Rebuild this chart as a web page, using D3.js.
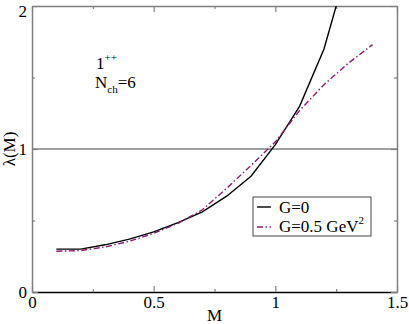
<!DOCTYPE html>
<html>
<head>
<meta charset="utf-8">
<script src="https://cdn.jsdelivr.net/npm/d3@7"></script>
<style>
  body { margin: 0; background: #fff; }
  svg { display: block; }
</style>
</head>
<body>
<div id="chart"></div>
<script>
// values
const massG0 = [0.1, 0.2, 0.3, 0.4, 0.5, 0.6, 0.7, 0.8, 0.9, 1.0, 1.1, 1.2, 1.3];
const lambdaG0 = [0.30, 0.30, 0.33, 0.37, 0.42, 0.485, 0.56, 0.67, 0.81, 1.03, 1.30, 1.70, 2.30];
const massG05 = [0.1, 0.2, 0.3, 0.4, 0.5, 0.6, 0.7, 0.8, 0.9, 1.0, 1.1, 1.2, 1.3, 1.4];
const lambdaG05 = [0.285, 0.29, 0.315, 0.355, 0.41, 0.48, 0.575, 0.725, 0.885, 1.05, 1.27, 1.45, 1.60, 1.73];
const xTicks = [0, 0.5, 1, 1.5];
const xMinor = [0.25, 0.75, 1.25];
const yTicks = [0, 1, 2];
const yMinor = [0.5, 1.5];

const w = 409, h = 324;
const padL = 32, padR = 397, padT = 6, padB = 292;
const purple = "#8a1f6e";
const serif = "Liberation Serif";

var svg = d3.select("#chart").append("svg")
    .attr("width", w)
    .attr("height", h)
    .attr("font-family", serif);

var x = d3.scaleLinear().domain([0, 1.5]).range([padL, padR]);
var y = d3.scaleLinear().domain([0, 2]).range([padB, padT]);

svg.append("clipPath").attr("id", "clip")
   .append("rect")
   .attr("x", padL).attr("y", padT)
   .attr("width", padR - padL).attr("height", padB - padT);

// reference line at lambda = 1
svg.append("line")
   .attr("x1", x(0)).attr("x2", x(1.5))
   .attr("y1", y(1)).attr("y2", y(1))
   .attr("stroke", "#808080")
   .attr("stroke-width", 1.5);

function styleAxis(g, col) {
  g.attr("font-family", serif);
  g.select(".domain").attr("stroke", col).attr("stroke-width", 1.5);
  g.selectAll(".tick line").attr("stroke", "#808080").attr("stroke-width", 1.2);
  g.selectAll(".tick text").attr("fill", "#000").attr("font-size", 17);
}

// bottom axis
var gx = svg.append("g").attr("transform", "translate(0," + padB + ")")
   .call(d3.axisBottom(x).tickValues(xTicks).tickFormat(d3.format("")).tickSizeInner(-6).tickSizeOuter(0).tickPadding(4));
styleAxis(gx, "#000");
svg.append("g").attr("transform", "translate(0," + padB + ")")
   .call(d3.axisBottom(x).tickValues(xMinor).tickFormat("").tickSizeInner(-3).tickSizeOuter(0))
   .call(g => styleAxis(g, "none"));

// top axis
svg.append("g").attr("transform", "translate(0," + padT + ")")
   .call(d3.axisTop(x).tickValues(xTicks).tickFormat("").tickSizeInner(-6).tickSizeOuter(0))
   .call(g => styleAxis(g, "#808080"));
svg.append("g").attr("transform", "translate(0," + padT + ")")
   .call(d3.axisTop(x).tickValues(xMinor).tickFormat("").tickSizeInner(-3).tickSizeOuter(0))
   .call(g => styleAxis(g, "none"));

// left axis
var gy = svg.append("g").attr("transform", "translate(" + padL + ",0)")
   .call(d3.axisLeft(y).tickValues(yTicks).tickFormat(d3.format("d")).tickSizeInner(-6).tickSizeOuter(0).tickPadding(5));
styleAxis(gy, "#808080");
gy.selectAll(".tick text").filter(d => d === 2).attr("dy", "0.6em");
svg.append("g").attr("transform", "translate(" + padL + ",0)")
   .call(d3.axisLeft(y).tickValues(yMinor).tickFormat("").tickSizeInner(-3).tickSizeOuter(0))
   .call(g => styleAxis(g, "none"));

// right axis
svg.append("g").attr("transform", "translate(" + padR + ",0)")
   .call(d3.axisRight(y).tickValues(yTicks).tickFormat("").tickSizeInner(-6).tickSizeOuter(0))
   .call(g => styleAxis(g, "#808080"));
svg.append("g").attr("transform", "translate(" + padR + ",0)")
   .call(d3.axisRight(y).tickValues(yMinor).tickFormat("").tickSizeInner(-3).tickSizeOuter(0))
   .call(g => styleAxis(g, "none"));

// curves
var line = d3.line().x(d => x(d[0])).y(d => y(d[1]));

svg.append("path")
   .datum(d3.zip(massG0, lambdaG0))
   .attr("clip-path", "url(#clip)")
   .attr("d", line)
   .attr("fill", "none")
   .attr("stroke", "#000")
   .attr("stroke-width", 1.4);

svg.append("path")
   .datum(d3.zip(massG05, lambdaG05))
   .attr("clip-path", "url(#clip)")
   .attr("d", line)
   .attr("fill", "none")
   .attr("stroke", purple)
   .attr("stroke-width", 1.4)
   .attr("stroke-dasharray", "6,2.5,1.5,2.5");

// axis titles
svg.append("text")
   .attr("x", (padL + padR) / 2).attr("y", 321)
   .attr("text-anchor", "middle")
   .attr("font-size", 17)
   .text("M");

svg.append("text")
   .attr("transform", "translate(15," + y(1) + ") rotate(-90)")
   .attr("text-anchor", "middle")
   .attr("font-size", 17)
   .text("λ(M)");

// annotation
var ann = svg.append("text").attr("x", 96).attr("y", 69).attr("font-size", 17);
ann.append("tspan").text("1");
ann.append("tspan").attr("font-size", 11).attr("dy", -8).text("++");
var ann2 = svg.append("text").attr("x", 95).attr("y", 88).attr("font-size", 17);
ann2.append("tspan").text("N");
ann2.append("tspan").attr("font-size", 11).attr("dy", 5).text("ch");
ann2.append("tspan").attr("dy", -5).text("=6");

// legend
var lg = svg.append("g");
lg.append("rect")
  .attr("x", 253).attr("y", 197)
  .attr("width", 118).attr("height", 39)
  .attr("fill", "#fff")
  .attr("stroke", "#444")
  .attr("stroke-width", 1);
lg.append("line")
  .attr("x1", 257).attr("x2", 271).attr("y1", 207).attr("y2", 207)
  .attr("stroke", "#000").attr("stroke-width", 1.4);
lg.append("line")
  .attr("x1", 257).attr("x2", 271).attr("y1", 227).attr("y2", 227)
  .attr("stroke", purple).attr("stroke-width", 1.4)
  .attr("stroke-dasharray", "6,2.5,1.5,2.5");
lg.append("text").attr("x", 279).attr("y", 213).attr("font-size", 17).text("G=0");
var t2 = lg.append("text").attr("x", 279).attr("y", 232).attr("font-size", 17);
t2.append("tspan").text("G=0.5 GeV");
t2.append("tspan").attr("font-size", 11).attr("dy", -8).text("2");
</script>
</body>
</html>
